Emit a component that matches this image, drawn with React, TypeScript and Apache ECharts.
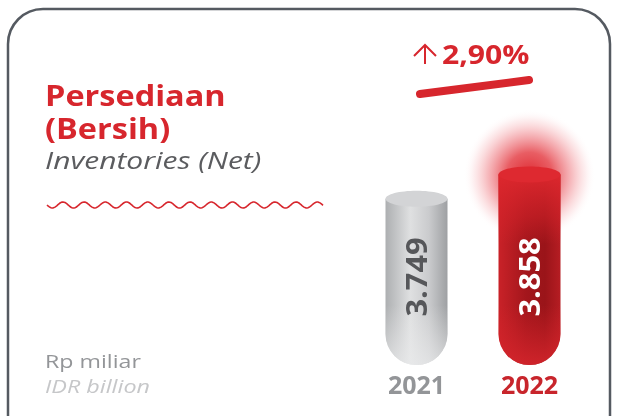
import React, { useEffect, useRef } from "react";
import * as echarts from "echarts";

const categories = ["2021", "2022"];
const values = [3749, 3858];
const valueLabels = ["3.749", "3.858"];
const yearColors = ["#939598", "#c8252c"];
const changeText = "2,90%";
const yMin = 3000;
const yMax = 4000;

export default function App() {
  const ref = useRef<HTMLDivElement>(null);
  useEffect(() => {
    if (!ref.current) return;
    const chart = echarts.init(ref.current, null, { renderer: "svg" });
    const wavePts: number[][] = [];
    for (let x = 47; x <= 323; x += 1) {
      wavePts.push([x, 205 + 3 * Math.sin(((x - 47) / 21.2) * 2 * Math.PI)]);
    }
    const red = "#d7262d";
    const txt = (x: number, y: number, text: string, extra: any, sx: number) => ({
      type: "text",
      x,
      y,
      scaleX: sx,
      style: {
        text,
        fontFamily: "Open Sans",
        verticalAlign: "middle",
        ...extra,
      },
    });
    const option: any = {
      animation: false,
      grid: { left: 360, right: 41, top: 143, bottom: 51 },
      xAxis: {
        type: "category",
        data: categories,
        axisLine: { show: false },
        axisTick: { show: false },
        axisLabel: {
          margin: 6,
          fontSize: 25,
          fontWeight: "bold",
          fontFamily: "Open Sans",
          color: (v: string, i: number) => yearColors[i],
        },
      },
      yAxis: {
        type: "value",
        min: yMin,
        max: yMax,
        show: false,
        splitLine: { show: false },
      },
      graphic: [
        {
          type: "rect",
          z: 0,
          shape: { x: 8, y: 9, width: 602, height: 450, r: 35 },
          style: { fill: "#fff", stroke: "#555a61", lineWidth: 2.5 },
        },
        txt(45, 95, "Persediaan", { fill: red, fontSize: 28, lineHeight: 29, fontWeight: "bold" }, 1.16),
        txt(45, 128, "(Bersih)", { fill: red, fontSize: 28, lineHeight: 29, fontWeight: "bold" }, 1.16),
        txt(45, 160, "Inventories (Net)", { fill: "#5b5c5f", fontSize: 24, lineHeight: 26, fontStyle: "italic" }, 1.25),
        {
          type: "polyline",
          shape: { points: wavePts },
          style: { stroke: red, lineWidth: 1.6, fill: null },
        },
        txt(45, 360, "Rp miliar", { fill: "#939598", fontSize: 19 }, 1.22),
        txt(45, 385, "IDR billion", { fill: "#c6c7c9", fontSize: 19, fontStyle: "italic" }, 1.23),
        {
          type: "polyline",
          shape: { points: [[425, 64], [425, 45]] },
          style: { stroke: red, lineWidth: 2, fill: null },
        },
        {
          type: "polyline",
          shape: { points: [[414, 56], [425, 45], [436, 56]] },
          style: { stroke: red, lineWidth: 2, fill: null, lineJoin: "miter" },
        },
        txt(442, 54, changeText, { fill: red, fontSize: 26, fontWeight: "bold" }, 1.16),
        {
          type: "line",
          shape: { x1: 420, y1: 94, x2: 529, y2: 80 },
          style: { stroke: red, lineWidth: 8, lineCap: "round" },
        },
      ],
      series: [
        {
          type: "custom",
          data: values.map((v, i) => [i, v]),
          encode: { x: 0, y: 1 },
          renderItem: (params: any, api: any) => {
            const idx = api.value(0);
            const v = api.value(1);
            const top = api.coord([idx, v]);
            const base = api.coord([idx, yMin]);
            const w = 62;
            const hw = w / 2;
            const isRed = idx === 1;
            const children: any[] = [];
            if (isRed) {
              children.push({
                type: "circle",
                shape: { cx: top[0], cy: top[1] + 1, r: 66 },
                style: {
                  fill: new echarts.graphic.RadialGradient(0.5, 0.5, 0.5, [
                    { offset: 0, color: "rgba(220,30,38,0.95)" },
                    { offset: 0.35, color: "rgba(225,40,48,0.75)" },
                    { offset: 0.65, color: "rgba(232,70,80,0.35)" },
                    { offset: 0.85, color: "rgba(240,120,128,0.12)" },
                    { offset: 1, color: "rgba(255,255,255,0)" },
                  ]),
                },
              });
            }
            const bodyFill = isRed
              ? new echarts.graphic.LinearGradient(0, 0, 1, 0, [
                  { offset: 0, color: "#c92228" },
                  { offset: 0.45, color: "#a3161c" },
                  { offset: 0.75, color: "#9a1419" },
                  { offset: 1, color: "#b61d23" },
                ])
              : new echarts.graphic.LinearGradient(0, 0, 1, 0, [
                  { offset: 0, color: "#adafb1" },
                  { offset: 0.4, color: "#dfe0e1" },
                  { offset: 0.7, color: "#cacbcd" },
                  { offset: 1, color: "#9ea0a3" },
                ]);
            children.push({
              type: "rect",
              shape: { x: top[0] - hw, y: top[1], width: w, height: base[1] - top[1], r: [0, 0, hw, hw] },
              style: { fill: bodyFill },
            });
            if (isRed) {
              children.push({
                type: "rect",
                shape: { x: top[0] - hw, y: top[1], width: w, height: 70 },
                style: {
                  fill: new echarts.graphic.LinearGradient(0, 0, 0, 1, [
                    { offset: 0, color: "rgba(222,40,46,0.95)" },
                    { offset: 0.6, color: "rgba(215,35,42,0.5)" },
                    { offset: 1, color: "rgba(215,35,42,0)" },
                  ]),
                },
              });
              children.push({
                type: "rect",
                shape: { x: top[0] - hw, y: base[1] - 60, width: w, height: 60, r: [0, 0, hw, hw] },
                style: {
                  fill: new echarts.graphic.LinearGradient(0, 0, 0, 1, [
                    { offset: 0, color: "rgba(215,35,42,0)" },
                    { offset: 1, color: "rgba(215,38,45,0.85)" },
                  ]),
                },
              });
            } else {
              children.push({
                type: "rect",
                shape: { x: top[0] - hw, y: base[1] - 60, width: w, height: 60, r: [0, 0, hw, hw] },
                style: {
                  fill: new echarts.graphic.LinearGradient(0, 0, 0, 1, [
                    { offset: 0, color: "rgba(240,240,240,0)" },
                    { offset: 1, color: "rgba(235,236,237,0.7)" },
                  ]),
                },
              });
            }
            children.push({
              type: "ellipse",
              shape: { cx: top[0], cy: top[1], rx: hw, ry: 8 },
              style: { fill: isRed ? "#de2930" : "#d3d4d6" },
            });
            children.push({
              type: "text",
              x: top[0],
              y: base[1] - 88,
              rotation: Math.PI / 2,
              scaleX: 1.1,
              style: {
                text: valueLabels[idx],
                fill: isRed ? "#ffffff" : "#56575a",
                fontSize: 28,
                fontWeight: "bold",
                fontFamily: "Open Sans",
                align: "center",
                verticalAlign: "middle",
              },
            });
            return { type: "group", children };
          },
        },
      ],
    };
    chart.setOption(option);
    return () => chart.dispose();
  }, []);
  return (
    <div
      ref={ref}
      style={{ position: "fixed", left: 0, top: 0, width: 627, height: 416 }}
    />
  );
}
